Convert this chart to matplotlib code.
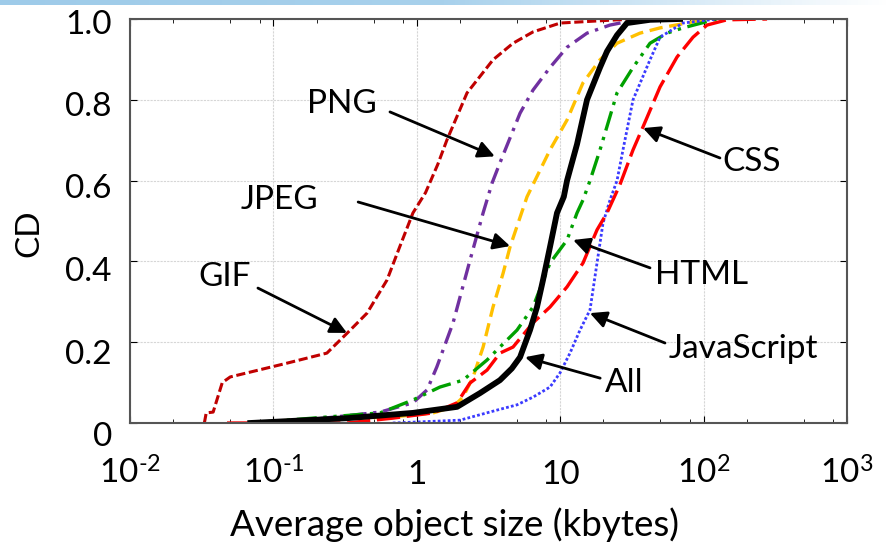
import numpy as np
import matplotlib
matplotlib.use('Agg')
import matplotlib.pyplot as plt
from matplotlib.colors import LinearSegmentedColormap
from matplotlib.transforms import ScaledTranslation

plt.rcParams['font.family'] = ['Lato', 'DejaVu Sans']
plt.rcParams['mathtext.fontset'] = 'custom'
plt.rcParams['mathtext.rm'] = 'Lato'
plt.rcParams['mathtext.it'] = 'Lato'

# CDFs of average object size (kbytes)
gif_x = [0.033, 0.034, 0.038, 0.044, 0.050, 0.124, 0.236, 0.326, 0.45, 0.62, 0.76, 0.94, 1.15, 1.40, 1.62, 2.24, 3.40, 4.69, 6.46, 10.0, 24.9, 42.3]
gif_y = [0.0, 0.025, 0.027, 0.10, 0.114, 0.148, 0.173, 0.222, 0.272, 0.354, 0.436, 0.52, 0.57, 0.64, 0.70, 0.817, 0.899, 0.94, 0.968, 0.99, 0.998, 1.0]

png_x = [0.069, 0.2, 0.554, 0.94, 1.18, 1.38, 1.79, 2.35, 2.90, 3.35, 3.80, 5.25, 6.46, 8.49, 11.16, 15.38, 22.25, 36.0]
png_y = [0.0, 0.01, 0.027, 0.05, 0.082, 0.139, 0.248, 0.403, 0.52, 0.594, 0.644, 0.767, 0.824, 0.88, 0.93, 0.965, 0.985, 1.0]

jpeg_x = [0.1, 0.68, 1.30, 1.79, 2.10, 2.47, 2.90, 3.40, 4.0, 4.47, 5.87, 8.49, 11.16, 14.42, 18.95, 24.9, 36.0, 49.7, 76.6, 105.6]
jpeg_y = [0.005, 0.015, 0.025, 0.04, 0.064, 0.114, 0.188, 0.287, 0.371, 0.436, 0.56, 0.676, 0.75, 0.842, 0.899, 0.94, 0.965, 0.978, 0.99, 1.0]

all_x = [0.069, 0.33, 0.94, 1.91, 2.76, 3.80, 4.6, 5.25, 6.16, 6.89, 7.59, 8.49, 9.50, 10.6, 11.16, 13.10, 15.38, 18.95, 21.21, 24.9, 29.23, 42.3, 68.5]
all_y = [0.0, 0.012, 0.025, 0.04, 0.074, 0.106, 0.135, 0.163, 0.23, 0.287, 0.354, 0.436, 0.52, 0.56, 0.60, 0.69, 0.80, 0.88, 0.92, 0.96, 0.99, 0.998, 1.0]

html_x = [0.069, 0.554, 0.94, 1.45, 2.10, 3.09, 3.80, 5.0, 6.46, 8.49, 11.16, 13.10, 14.42, 16.14, 18.95, 24.9, 32.2, 42.3, 55.6, 71.8, 124.0]
html_y = [0.0, 0.025, 0.057, 0.089, 0.106, 0.156, 0.188, 0.23, 0.287, 0.396, 0.453, 0.52, 0.552, 0.60, 0.676, 0.817, 0.88, 0.94, 0.965, 0.978, 1.0]

js_x = [0.68, 2.0, 3.63, 5.0, 6.46, 8.49, 9.97, 11.70, 13.74, 16.14, 18.06, 19.89, 22.25, 24.9, 27.4, 32.2, 42.3, 49.7, 71.8, 124.0]
js_y = [0.0, 0.007, 0.032, 0.045, 0.064, 0.089, 0.124, 0.173, 0.23, 0.28, 0.396, 0.495, 0.552, 0.60, 0.676, 0.80, 0.899, 0.955, 0.99, 1.0]

css_x = [0.0475, 0.326, 0.68, 1.30, 1.91, 2.35, 3.09, 3.80, 4.69, 5.87, 6.46, 8.49, 11.16, 14.42, 18.06, 21.21, 26.1, 32.2, 37.8, 49.7, 65.3, 84.4, 105.6, 145.6, 277.0]
css_y = [0.0, 0.0, 0.012, 0.025, 0.05, 0.099, 0.131, 0.173, 0.188, 0.23, 0.248, 0.287, 0.337, 0.396, 0.478, 0.52, 0.59, 0.676, 0.733, 0.832, 0.906, 0.955, 0.985, 0.998, 1.0]

x_ticks = [0.01, 0.1, 1, 10, 100, 1000]
x_ticklabels = [r'$10^{\text{-}2}$', r'$10^{\text{-}1}$', '1', '10', r'$10^{2}$', r'$10^{3}$']
y_ticks = [0, 0.2, 0.4, 0.6, 0.8, 1.0]
y_ticklabels = ['0', '0.2', '0.4', '0.6', '0.8', '1.0']

FS = 24

fig = plt.figure(figsize=(8.89, 5.42), dpi=100)

# light blue slide strip at the top
strip = fig.add_axes([0, 1 - 5 / 542, 1, 5 / 542])
cmap = LinearSegmentedColormap.from_list('strip', ['#9ECBE9', '#A8D1EC', '#FFFFFF'])
strip.imshow(np.linspace(0, 1, 256)[None, :], aspect='auto', cmap=cmap)
strip.axis('off')

ax = fig.add_axes([130 / 889, 1 - 423 / 542, 717 / 889, 404 / 542])

ax.plot(gif_x, gif_y, color='#C00000', lw=2.2, ls=(0, (3, 1.2)))
ax.plot(png_x, png_y, color='#7030A0', lw=2.4, ls=(0, (5, 2, 1, 2)))
ax.plot(jpeg_x, jpeg_y, color='#FFC000', lw=2.4, ls=(0, (4, 2)))
ax.plot(html_x, html_y, color='#00A000', lw=2.4, ls=(0, (6, 2, 1, 2, 1, 2)))
ax.plot(js_x, js_y, color='#3B3BFF', lw=2.0, ls=(0, (1, 0.8)))
ax.plot(css_x, css_y, color='#FF0000', lw=2.4, ls=(0, (7, 2)))
ax.plot(all_x, all_y, color='black', lw=4.2)

ax.set_xscale('log')
ax.set_xlim(0.01, 1000)
ax.set_ylim(0, 1)
ax.set_xticks(x_ticks)
ax.set_xticklabels(x_ticklabels)
ax.xaxis.set_minor_locator(matplotlib.ticker.LogLocator(base=10, subs=[2, 5, 8]))
ax.xaxis.set_minor_formatter(matplotlib.ticker.NullFormatter())
ax.set_yticks(y_ticks)
ax.set_yticklabels([])

ax.tick_params(axis='both', which='both', direction='in', top=True, right=True,
               labelsize=FS, colors='black')
ax.tick_params(axis='x', which='major', length=5, pad=9)
ax.tick_params(axis='x', which='minor', length=3)
ax.tick_params(axis='y', which='major', length=5)

for lab in ax.get_xticklabels():
    lab.set_va('baseline')
    lab.set_transform(lab.get_transform() + ScaledTranslation(0, -48 / 100, fig.dpi_scale_trans))

# y tick labels sit a little below their ticks, more so towards the bottom
for yv, txt in zip(y_ticks, y_ticklabels):
    shift = ScaledTranslation(-18 / 100, -(14 - 8.5 * yv) / 100, fig.dpi_scale_trans)
    ax.text(0, yv, txt, fontsize=FS, ha='right', va='center',
            transform=ax.get_yaxis_transform() + shift)

ax.grid(True, which='major', color='#D6D6D6', lw=0.8, ls=(0, (2, 1)))
for s in ax.spines.values():
    s.set_color('#555555')
    s.set_linewidth(1.5)

ax.set_xlabel('Average object size (kbytes)', fontsize=26.5)
ax.xaxis.set_label_coords(0.453, -0.21)
ax.set_ylabel('CD', fontsize=FS)
ax.yaxis.set_label_coords(-0.119, 0.47)

# labels with arrows: (text, text pos, arrow tail, arrow tip)
notes = [
    ('PNG', (0.30, 0.79), (0.65, 0.77), (3.5, 0.66)),
    ('JPEG', (0.111, 0.552), (0.39, 0.547), (4.47, 0.438)),
    ('GIF', (0.046, 0.361), (0.078, 0.334), (0.326, 0.223)),
    ('CSS', (217, 0.646), (130, 0.656), (37.8, 0.73)),
    ('HTML', (97.5, 0.366), (42.3, 0.384), (12.3, 0.453)),
    ('JavaScript', (188, 0.183), (53.8, 0.198), (16.1, 0.272)),
    ('All', (27.9, 0.099), (19.0, 0.111), (5.69, 0.163)),
]
for name, tpos, tail, tip in notes:
    ax.text(tpos[0], tpos[1], name, fontsize=FS, ha='center', va='center')
    ax.annotate('', xy=tip, xytext=tail,
                arrowprops=dict(arrowstyle='-|>', color='black', lw=2,
                                mutation_scale=25, shrinkA=0, shrinkB=0))

plt.savefig('out.png', dpi=100)
